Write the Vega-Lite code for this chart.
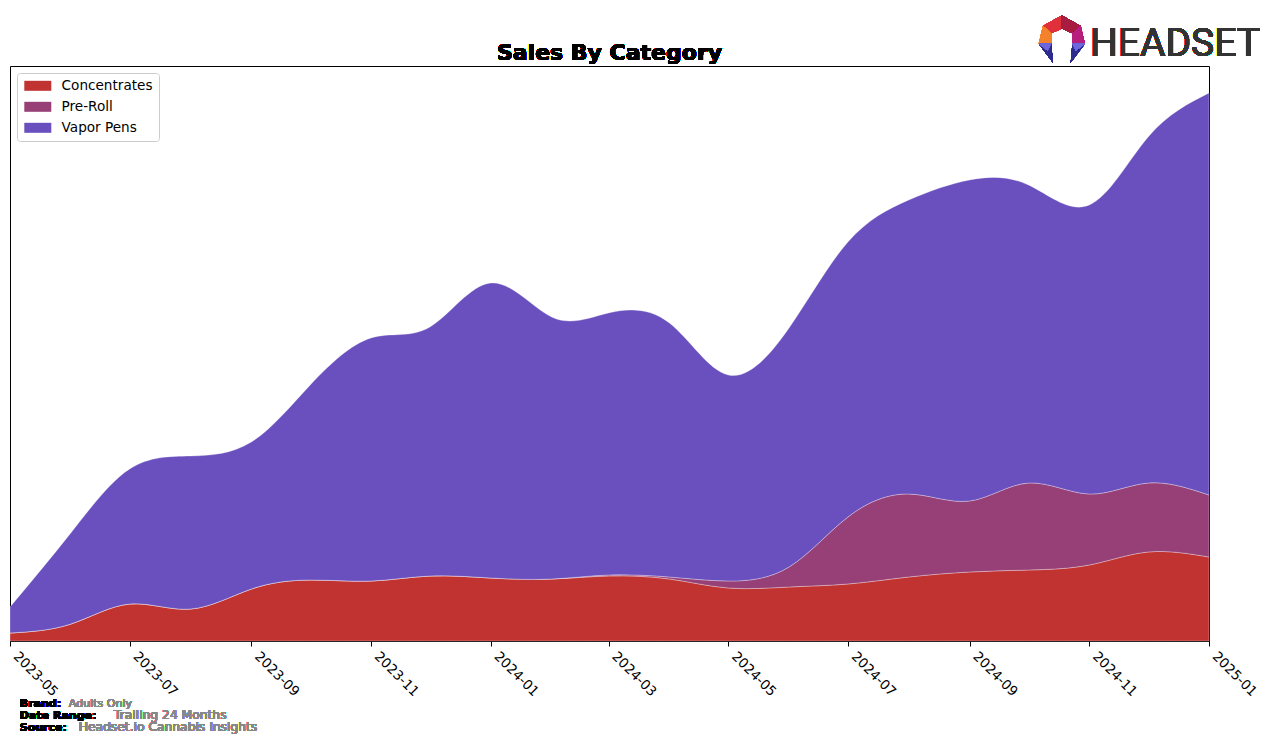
{
  "$schema": "https://vega.github.io/schema/vega-lite/v6.json",
  "autosize": "none",
  "width": 1199,
  "height": 575,
  "padding": {"left": 10, "top": 66, "right": 67, "bottom": 104},
  "background": "white",
  "config": {
    "view": {"stroke": "black", "strokeWidth": 1},
    "font": "DejaVu Sans"
  },
  "data": {
    "values": [
      {"month": "2023-05-01", "category": "Concentrates", "sales": 8},
      {"month": "2023-06-01", "category": "Concentrates", "sales": 17},
      {"month": "2023-07-01", "category": "Concentrates", "sales": 37},
      {"month": "2023-08-01", "category": "Concentrates", "sales": 32},
      {"month": "2023-09-01", "category": "Concentrates", "sales": 52},
      {"month": "2023-10-01", "category": "Concentrates", "sales": 61},
      {"month": "2023-11-01", "category": "Concentrates", "sales": 60},
      {"month": "2023-12-01", "category": "Concentrates", "sales": 65},
      {"month": "2024-01-01", "category": "Concentrates", "sales": 63},
      {"month": "2024-02-01", "category": "Concentrates", "sales": 62},
      {"month": "2024-03-01", "category": "Concentrates", "sales": 65},
      {"month": "2024-04-01", "category": "Concentrates", "sales": 62},
      {"month": "2024-05-01", "category": "Concentrates", "sales": 53},
      {"month": "2024-06-01", "category": "Concentrates", "sales": 54},
      {"month": "2024-07-01", "category": "Concentrates", "sales": 57},
      {"month": "2024-08-01", "category": "Concentrates", "sales": 64},
      {"month": "2024-09-01", "category": "Concentrates", "sales": 69},
      {"month": "2024-10-01", "category": "Concentrates", "sales": 71},
      {"month": "2024-11-01", "category": "Concentrates", "sales": 76},
      {"month": "2024-12-01", "category": "Concentrates", "sales": 89},
      {"month": "2025-01-01", "category": "Concentrates", "sales": 84},
      {"month": "2023-05-01", "category": "Pre-Roll", "sales": 0},
      {"month": "2023-06-01", "category": "Pre-Roll", "sales": 0},
      {"month": "2023-07-01", "category": "Pre-Roll", "sales": 0},
      {"month": "2023-08-01", "category": "Pre-Roll", "sales": 0},
      {"month": "2023-09-01", "category": "Pre-Roll", "sales": 0},
      {"month": "2023-10-01", "category": "Pre-Roll", "sales": 0},
      {"month": "2023-11-01", "category": "Pre-Roll", "sales": 0},
      {"month": "2023-12-01", "category": "Pre-Roll", "sales": 0},
      {"month": "2024-01-01", "category": "Pre-Roll", "sales": 0},
      {"month": "2024-02-01", "category": "Pre-Roll", "sales": 0},
      {"month": "2024-03-01", "category": "Pre-Roll", "sales": 1},
      {"month": "2024-04-01", "category": "Pre-Roll", "sales": 2},
      {"month": "2024-05-01", "category": "Pre-Roll", "sales": 7},
      {"month": "2024-06-01", "category": "Pre-Roll", "sales": 20},
      {"month": "2024-07-01", "category": "Pre-Roll", "sales": 67},
      {"month": "2024-08-01", "category": "Pre-Roll", "sales": 83},
      {"month": "2024-09-01", "category": "Pre-Roll", "sales": 71},
      {"month": "2024-10-01", "category": "Pre-Roll", "sales": 87},
      {"month": "2024-11-01", "category": "Pre-Roll", "sales": 71},
      {"month": "2024-12-01", "category": "Pre-Roll", "sales": 69},
      {"month": "2025-01-01", "category": "Pre-Roll", "sales": 62},
      {"month": "2023-05-01", "category": "Vapor Pens", "sales": 26},
      {"month": "2023-06-01", "category": "Vapor Pens", "sales": 91},
      {"month": "2023-07-01", "category": "Vapor Pens", "sales": 135},
      {"month": "2023-08-01", "category": "Vapor Pens", "sales": 153},
      {"month": "2023-09-01", "category": "Vapor Pens", "sales": 147},
      {"month": "2023-10-01", "category": "Vapor Pens", "sales": 195},
      {"month": "2023-11-01", "category": "Vapor Pens", "sales": 243},
      {"month": "2023-12-01", "category": "Vapor Pens", "sales": 249},
      {"month": "2024-01-01", "category": "Vapor Pens", "sales": 295},
      {"month": "2024-02-01", "category": "Vapor Pens", "sales": 262},
      {"month": "2024-03-01", "category": "Vapor Pens", "sales": 262},
      {"month": "2024-04-01", "category": "Vapor Pens", "sales": 254},
      {"month": "2024-05-01", "category": "Vapor Pens", "sales": 206},
      {"month": "2024-06-01", "category": "Vapor Pens", "sales": 239},
      {"month": "2024-07-01", "category": "Vapor Pens", "sales": 275},
      {"month": "2024-08-01", "category": "Vapor Pens", "sales": 294},
      {"month": "2024-09-01", "category": "Vapor Pens", "sales": 321},
      {"month": "2024-10-01", "category": "Vapor Pens", "sales": 298},
      {"month": "2024-11-01", "category": "Vapor Pens", "sales": 289},
      {"month": "2024-12-01", "category": "Vapor Pens", "sales": 346},
      {"month": "2025-01-01", "category": "Vapor Pens", "sales": 402}
    ]
  },
  "layer": [
    {
      "mark": {"type": "area", "interpolate": "natural", "stroke": "white", "strokeWidth": 0.6, "strokeOpacity": 0.5},
      "encoding": {
        "x": {
          "field": "month", "type": "temporal",
          "scale": {"type": "utc", "domain": [{"year": 2023, "month": 5, "date": 1, "utc": true}, {"year": 2025, "month": 1, "date": 1, "utc": true}], "nice": false},
          "axis": {
            "title": null, "grid": false,
            "labelExpr": "utcFormat(datum.value, '%Y-%m')",
            "values": [
              {"year": 2023, "month": 5, "date": 1, "utc": true},
              {"year": 2023, "month": 7, "date": 1, "utc": true},
              {"year": 2023, "month": 9, "date": 1, "utc": true},
              {"year": 2023, "month": 11, "date": 1, "utc": true},
              {"year": 2024, "month": 1, "date": 1, "utc": true},
              {"year": 2024, "month": 3, "date": 1, "utc": true},
              {"year": 2024, "month": 5, "date": 1, "utc": true},
              {"year": 2024, "month": 7, "date": 1, "utc": true},
              {"year": 2024, "month": 9, "date": 1, "utc": true},
              {"year": 2024, "month": 11, "date": 1, "utc": true},
              {"year": 2025, "month": 1, "date": 1, "utc": true}
            ],
            "labelAngle": 45, "labelAlign": "left", "labelBaseline": "top",
            "labelOffset": 10,
            "labelFont": "DejaVu Sans", "labelFontSize": 13.5, "labelColor": "black",
            "labelPadding": 3, "labelOverlap": false, "labelFlush": false,
            "tickColor": "black", "tickSize": 5, "domainColor": "black"
          }
        },
        "y": {
          "field": "sales", "type": "quantitative", "stack": "zero",
          "scale": {"domain": [0, 575], "nice": false, "zero": true},
          "axis": null
        },
        "color": {
          "field": "category", "type": "nominal",
          "scale": {"domain": ["Concentrates", "Pre-Roll", "Vapor Pens"], "range": ["#c13331", "#974077", "#6a4fbe"]},
          "legend": {
            "title": null, "orient": "top-left", "offset": 7,
            "labelFont": "DejaVu Sans", "labelFontSize": 13.6, "labelColor": "black",
            "symbolType": "M-2.7,-1H2.7V1H-2.7Z", "symbolSize": 100, "symbolStrokeWidth": 0,
            "symbolOpacity": 1, "symbolOffset": 8, "rowPadding": 6, "labelOffset": 17,
            "padding": 6, "strokeColor": "#cccccc", "fillColor": "white", "cornerRadius": 3
          }
        },
        "order": {"field": "category", "sort": "ascending"}
      }
    },
    {
      "mark": {"type": "text", "align": "center", "baseline": "alphabetic", "font": "DejaVu Sans", "fontSize": 22, "fontWeight": "bold", "color": "black", "text": "Sales By Category"},
      "encoding": {
        "x": {"datum": {"year": 2024, "month": 3, "date": 1, "hours": 12, "utc": true}, "type": "temporal"},
        "y": {"datum": 581, "type": "quantitative"}
      }
    },
    {
      "mark": {"type": "text", "align": "left", "baseline": "alphabetic", "font": "DejaVu Sans", "fontSize": 11, "fontWeight": "bold", "color": "black", "text": "Brand:"},
      "encoding": {
        "x": {"datum": {"year": 2023, "month": 5, "date": 6, "utc": true}, "type": "temporal"},
        "y": {"datum": -66, "type": "quantitative"}
      }
    },
    {
      "mark": {"type": "text", "align": "left", "baseline": "alphabetic", "font": "DejaVu Sans", "fontSize": 11, "color": "#888888", "text": "Adults Only"},
      "encoding": {
        "x": {"datum": {"year": 2023, "month": 5, "date": 31, "utc": true}, "type": "temporal"},
        "y": {"datum": -66, "type": "quantitative"}
      }
    },
    {
      "mark": {"type": "text", "align": "left", "baseline": "alphabetic", "font": "DejaVu Sans", "fontSize": 11, "fontWeight": "bold", "color": "black", "text": "Date Range:"},
      "encoding": {
        "x": {"datum": {"year": 2023, "month": 5, "date": 6, "utc": true}, "type": "temporal"},
        "y": {"datum": -78, "type": "quantitative"}
      }
    },
    {
      "mark": {"type": "text", "align": "left", "baseline": "alphabetic", "font": "DejaVu Sans", "fontSize": 12.3, "color": "#888888", "text": "Trailing 24 Months"},
      "encoding": {
        "x": {"datum": {"year": 2023, "month": 6, "date": 23, "utc": true}, "type": "temporal"},
        "y": {"datum": -78, "type": "quantitative"}
      }
    },
    {
      "mark": {"type": "text", "align": "left", "baseline": "alphabetic", "font": "DejaVu Sans", "fontSize": 11, "fontWeight": "bold", "color": "black", "text": "Source:"},
      "encoding": {
        "x": {"datum": {"year": 2023, "month": 5, "date": 6, "utc": true}, "type": "temporal"},
        "y": {"datum": -90, "type": "quantitative"}
      }
    },
    {
      "mark": {"type": "text", "align": "left", "baseline": "alphabetic", "font": "DejaVu Sans", "fontSize": 12.3, "color": "#888888", "text": "Headset.io Cannabis Insights"},
      "encoding": {
        "x": {"datum": {"year": 2023, "month": 6, "date": 5, "utc": true}, "type": "temporal"},
        "y": {"datum": -90, "type": "quantitative"}
      }
    },
    {
      "mark": {"type": "text", "align": "right", "baseline": "alphabetic", "font": "Roboto", "fontSize": 39, "color": "#333333", "text": "HEADSET"},
      "encoding": {
        "x": {"datum": {"year": 2025, "month": 1, "date": 27, "utc": true}, "type": "temporal"},
        "y": {"datum": 585, "type": "quantitative"}
      }
    },
    {
      "mark": {"type": "point", "filled": true, "size": 2209, "color": "#e0303a", "opacity": 1, "strokeWidth": 0, "shape": "M-0.8,-0.55L0,-1L0,-0.45L-0.45,-0.25Z"},
      "encoding": {
        "x": {"datum": {"year": 2024, "month": 10, "date": 18, "utc": true}, "type": "temporal"},
        "y": {"datum": 602, "type": "quantitative"}
      }
    },
    {
      "mark": {"type": "point", "filled": true, "size": 2209, "color": "#a81d3f", "opacity": 1, "strokeWidth": 0, "shape": "M0,-1L0.8,-0.55L0.45,-0.25L0,-0.45Z"},
      "encoding": {
        "x": {"datum": {"year": 2024, "month": 10, "date": 18, "utc": true}, "type": "temporal"},
        "y": {"datum": 602, "type": "quantitative"}
      }
    },
    {
      "mark": {"type": "point", "filled": true, "size": 2209, "color": "#f3822b", "opacity": 1, "strokeWidth": 0, "shape": "M-0.8,-0.55L-0.45,-0.25L-0.45,0.2L-0.98,0.2Z"},
      "encoding": {
        "x": {"datum": {"year": 2024, "month": 10, "date": 18, "utc": true}, "type": "temporal"},
        "y": {"datum": 602, "type": "quantitative"}
      }
    },
    {
      "mark": {"type": "point", "filled": true, "size": 2209, "color": "#b71f7f", "opacity": 1, "strokeWidth": 0, "shape": "M0.8,-0.55L0.98,0.2L0.45,0.2L0.45,-0.25Z"},
      "encoding": {
        "x": {"datum": {"year": 2024, "month": 10, "date": 18, "utc": true}, "type": "temporal"},
        "y": {"datum": 602, "type": "quantitative"}
      }
    },
    {
      "mark": {"type": "point", "filled": true, "size": 2209, "color": "#2e2b8f", "opacity": 1, "strokeWidth": 0, "shape": "M-0.98,0.2L-0.45,0.2L-0.38,1ZM0.98,0.2L0.45,0.2L0.38,1Z"},
      "encoding": {
        "x": {"datum": {"year": 2024, "month": 10, "date": 18, "utc": true}, "type": "temporal"},
        "y": {"datum": 602, "type": "quantitative"}
      }
    },
    {
      "mark": {"type": "point", "filled": true, "size": 2209, "color": "#6d66dc", "opacity": 1, "strokeWidth": 0, "shape": "M-0.98,0.2L-0.45,0.2L-0.6,0.5ZM0.98,0.2L0.45,0.2L0.6,0.5Z"},
      "encoding": {
        "x": {"datum": {"year": 2024, "month": 10, "date": 18, "utc": true}, "type": "temporal"},
        "y": {"datum": 602, "type": "quantitative"}
      }
    }
  ]
}
